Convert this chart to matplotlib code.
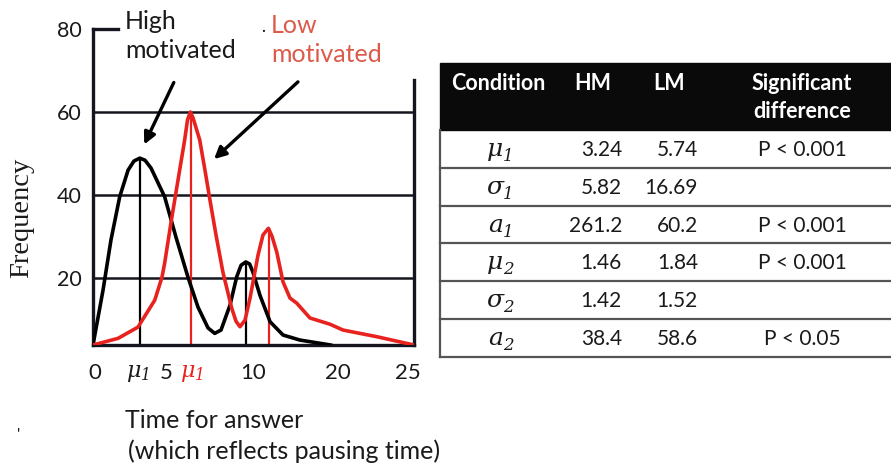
import matplotlib
matplotlib.use("Agg")
import matplotlib.pyplot as plt
from matplotlib.patches import Rectangle

# ---------------- data ----------------
hm_x = [0.0, 0.78, 1.40, 2.08, 2.73, 3.19, 3.64, 4.05, 4.52, 5.58, 6.46, 7.40, 8.18, 8.96, 9.48, 9.97,
        10.67, 11.19, 11.53, 11.9, 12.2, 12.46, 13.0, 13.79, 14.8, 16.1, 17.7, 18.5]
hm_y = [3.9, 17.1, 29.2, 39.6, 46.0, 48.2, 48.9, 48.4, 46.5, 39.6, 29.9, 20.2, 13.0, 8.0, 6.7, 7.5,
        13.5, 20.3, 23.1, 23.9, 23.4, 21.4, 15.9, 9.5, 6.3, 5.1, 4.3, 3.9]
lm_x = [0.0, 1.95, 3.50, 4.81, 5.37, 5.58, 6.07, 6.62, 7.14, 7.36, 7.58, 7.79, 8.31, 8.72, 9.11, 9.58,
        10.12, 10.8, 11.14, 11.45, 11.84, 12.23, 12.85, 13.24, 13.66, 13.94, 14.31, 14.8, 15.34, 15.86,
        16.9, 18.46, 19.47, 22.1, 25.0]
lm_y = [3.9, 5.5, 8.2, 14.7, 20.2, 23.6, 33.3, 43.6, 53.3, 58.1, 60.0, 58.6, 53.3, 46.0, 38.8, 30.4,
        21.4, 12.8, 9.6, 8.3, 9.9, 15.2, 25.5, 30.4, 32.0, 30.1, 26.3, 19.1, 15.2, 14.0,
        10.4, 8.9, 7.5, 5.9, 3.9]
hm_peaks_x = [3.64, 11.95]
hm_peaks_y = [48.9, 23.9]
lm_peaks_x = [7.6, 13.7]
lm_peaks_y = [60.0, 32.0]

y_ticks = [20, 40, 60, 80]
x_tick_pos = [0.16, 3.5, 5.7, 7.7, 12.5, 19.1, 24.5]
x_tick_labels = ["0", r"$\mu_{1}$", "5", r"$\mu_{1}$", "10", "20", "25"]

col_labels = ["Condition", "HM", "LM", "Significant\ndifference"]
cond_symbols = ["μ", "σ", "a", "μ", "σ", "a"]
cond_subs = ["1", "1", "1", "2", "2", "2"]
hm_vals = ["3.24", "5.82", "261.2", "1.46", "1.42", "38.4"]
lm_vals = ["5.74", "16.69", "60.2", "1.84", "1.52", "58.6"]
sig_vals = ["P < 0.001", "", "P < 0.001", "P < 0.001", "", "P < 0.05"]

# ---------------- figure ----------------
W, H = 891, 472
plt.rcParams['font.family'] = ['Lato', 'DejaVu Sans']
plt.rcParams['mathtext.fontset'] = 'custom'
plt.rcParams['mathtext.it'] = 'DejaVu Serif:italic'
plt.rcParams['mathtext.rm'] = 'DejaVu Serif:italic'
plt.rcParams['mathtext.default'] = 'it'
fig = plt.figure(figsize=(W / 100, H / 100), dpi=100)


def fx(px):
    return px / W


def fy(py):
    return 1 - py / H


RED = "#e8231f"
SALMON = "#dc5a4a"
DARK = "#15151f"
TXT = "#1a1a1a"

ax = fig.add_axes([fx(93), fy(345), fx(414) - fx(93), fy(29) - fy(345)])
ax.set_xlim(0, 25)
ax.set_ylim(3.9, 80)
for s in ["top", "right"]:
    ax.spines[s].set_visible(False)
for s in ["left", "bottom"]:
    ax.spines[s].set_linewidth(2.4)
    ax.spines[s].set_color(DARK)

for g in y_ticks[:-1]:
    ax.plot([0, 25], [g, g], color=DARK, lw=1.8, zorder=1)
ax.plot([0, 1.95], [80, 80], color=DARK, lw=2.4, clip_on=False)
ax.plot([25, 25], [3.9, 67.7], color=DARK, lw=2.4, clip_on=False)

ax.plot(hm_x, hm_y, color="black", lw=2.6, zorder=3, solid_joinstyle="round")
ax.plot(lm_x, lm_y, color=RED, lw=2.6, zorder=3, solid_joinstyle="round")
ax.vlines(hm_peaks_x, 3.9, hm_peaks_y, color="black", lw=1.6, zorder=2)
ax.vlines(lm_peaks_x, 3.9, lm_peaks_y, color=RED, lw=1.6, zorder=2)

ax.set_yticks(y_ticks)
ax.set_yticklabels([str(v) for v in y_ticks], fontsize=15.5, color=TXT)
ax.tick_params(axis="y", length=0, pad=8)
ax.set_xticks(x_tick_pos)
ax.set_xticklabels(x_tick_labels, fontsize=16, color=TXT)
ax.tick_params(axis="x", length=0, pad=13)
ax.get_xticklabels()[3].set_color(RED)

# arrows
arrow_kw = dict(arrowstyle="-|>,head_length=0.7,head_width=0.35", color="black", lw=2.4)
ax.annotate("", xy=(fx(143), fy(147)), xycoords="figure fraction",
            xytext=(fx(175), fy(80)), textcoords="figure fraction", arrowprops=arrow_kw)
ax.annotate("", xy=(fx(212), fy(161)), xycoords="figure fraction",
            xytext=(fx(300), fy(80)), textcoords="figure fraction", arrowprops=arrow_kw)

fig.text(fx(125), fy(10), "High\nmotivated", fontsize=18, color=TXT, va="top", ha="left",
         linespacing=1.3)
fig.text(fx(271), fy(14), "Low\nmotivated", fontsize=18, color=SALMON, va="top", ha="left",
         linespacing=1.3)
fig.text(fx(263), fy(27), ".", fontsize=12, color="black", ha="center", va="center")

fig.text(fx(22), fy(218), "Frequency", family=["Liberation Serif"], fontsize=20.5,
         rotation=90, ha="center", va="center", color=TXT)
fig.text(fx(125), fy(420), "Time for answer", fontsize=18, ha="left", va="center", color=TXT)
fig.text(fx(128), fy(451), "(which reflects pausing time)", fontsize=18, ha="left", va="center",
         color=TXT)
fig.text(fx(19), fy(436), "'", fontsize=12, ha="center", va="center", color=TXT)

# ---------------- table ----------------
tx0, tx1 = 440, 891
head_top, head_bot = 63, 130
row_h = 37.8
fig.patches.append(Rectangle((fx(tx0), fy(head_bot)), fx(tx1) - fx(tx0), fy(head_top) - fy(head_bot),
                             transform=fig.transFigure, color="#0a0a0a", zorder=0))
hx = [498, 593, 669, 802]
head_kw = dict(color="white", fontweight="bold", fontsize=15.5, ha="center", va="center")
fig.text(fx(hx[0]), fy(84), col_labels[0], **head_kw)
fig.text(fx(hx[1]), fy(84), col_labels[1], **head_kw)
fig.text(fx(hx[2]), fy(84), col_labels[2], **head_kw)
sig_lines = col_labels[3].split("\n")
fig.text(fx(hx[3]), fy(84), sig_lines[0], **head_kw)
fig.text(fx(hx[3]), fy(112), sig_lines[1], **head_kw)

sym_font = ["DejaVu Serif"]
for i in range(len(cond_symbols)):
    top = head_bot + i * row_h
    bot = top + row_h
    cy = top + row_h / 2 + 1
    fig.add_artist(plt.Line2D([fx(tx0), fx(tx1)], [fy(bot), fy(bot)], color="#555555", lw=1.6))
    fig.text(fx(503), fy(cy + 6), cond_symbols[i], fontsize=18, fontstyle="italic", family=sym_font,
             ha="right", va="baseline", color=TXT)
    fig.text(fx(503), fy(cy + 11), cond_subs[i], fontsize=12, fontstyle="italic", family=sym_font,
             ha="left", va="baseline", color=TXT)
    fig.text(fx(622), fy(cy), hm_vals[i], fontsize=15, ha="right", va="center", color=TXT)
    fig.text(fx(698), fy(cy), lm_vals[i], fontsize=15, ha="right", va="center", color=TXT)
    fig.text(fx(802), fy(cy), sig_vals[i], fontsize=15, ha="center", va="center", color=TXT)
fig.add_artist(plt.Line2D([fx(tx0), fx(tx0)], [fy(head_bot), fy(head_bot + 6 * row_h)],
                          color="#555555", lw=1.6))

fig.savefig("out.png", dpi=100)
